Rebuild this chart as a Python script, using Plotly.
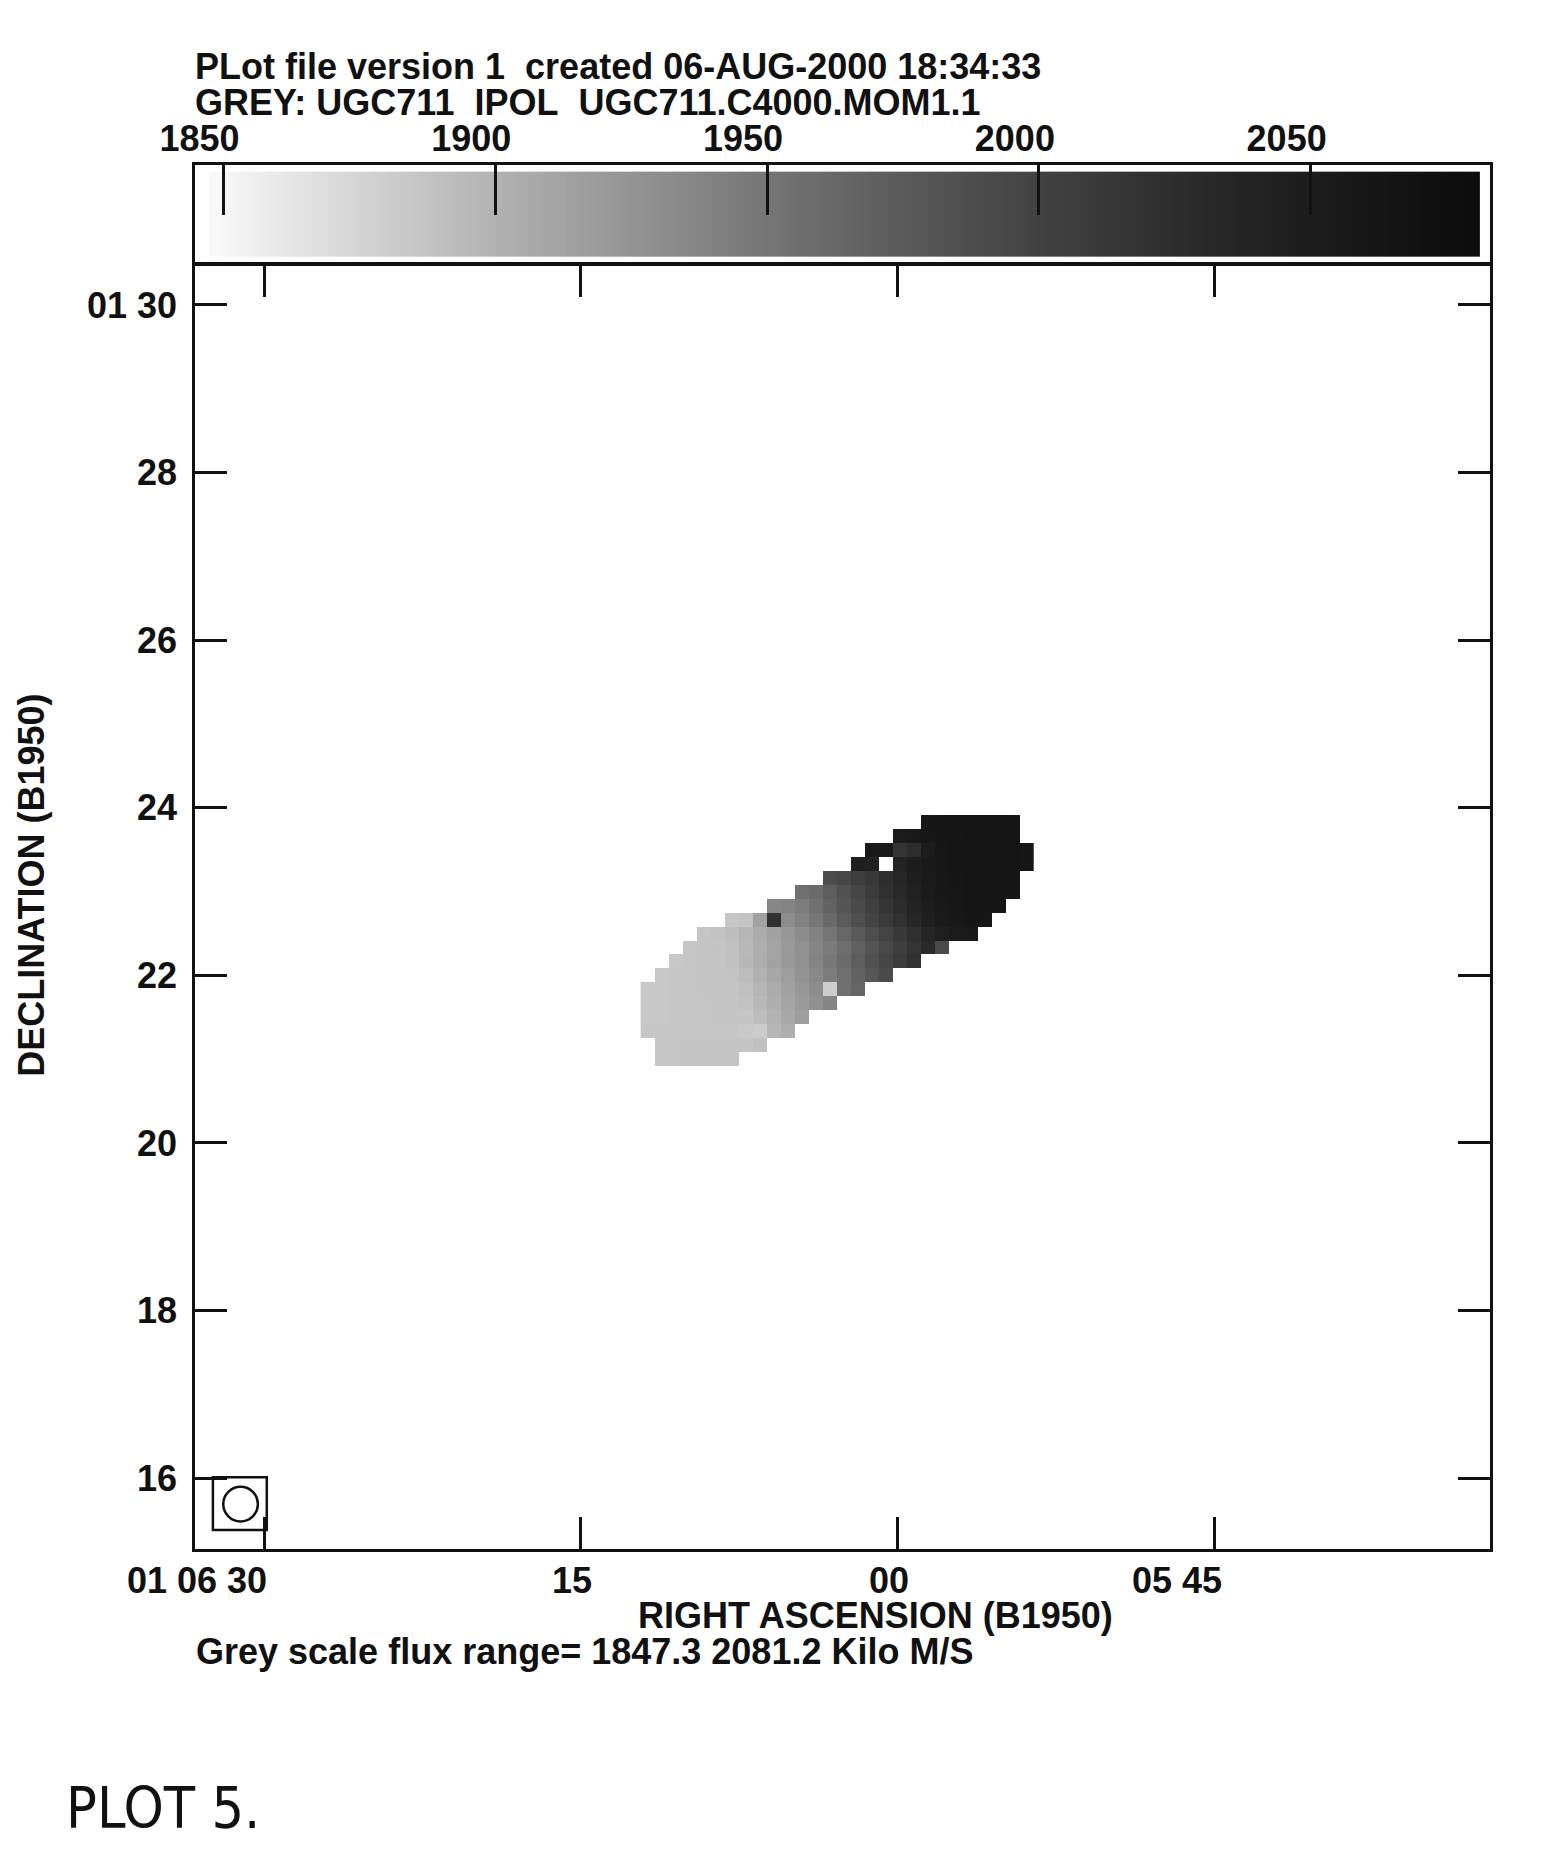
import numpy as np
import plotly.graph_objects as go

# ---------------- data ----------------
RA_TICKS = [30, 15, 0, -15]                      # seconds of RA relative to 01h06m00s
RA_TICK_TEXT = ["01 06 30", "15", "00", "05 45"]
RA_LABEL_SHIFT = [5, 13, 13, 9]
DEC_TICKS = [30, 28, 26, 24, 22, 20, 18, 16]     # arcmin relative to +01d00m
DEC_TICK_TEXT = ["01 30", "28", "26", "24", "22", "20", "18", "16"]
CBAR_TICKS = [1850, 1900, 1950, 2000, 2050]
FLUX_RANGE = [1847.3, 2081.2]                    # km/s

# grey ramp of the wedge (velocity -> grey level)
GREY_V = [1847.3, 1875, 1900, 1925, 1950, 1975, 2000, 2025, 2050, 2081.2]
GREY_L = [250, 212, 178, 147, 118, 90, 66, 45, 28, 12]

# velocity-field pixel grid (10" pixels)
GRID_X0, GRID_DX = 11.842, -0.665    # RA seconds of first column centre, step
GRID_Y0, GRID_DY = 23.830, -0.1667   # Dec arcmin of first (top) row centre, step
N_COLS = 28
ROW_START = [20, 18, 16, 15, 13, 11, 9, 6, 4, 3, 2, 1, 0, 0, 0, 0, 1, 1]
ROW_VALUES = [
    [2061, 2064, 2065, 2066, 2066, 2065, 2063],
    [2052, 2055, 2059, 2062, 2064, 2065, 2066, 2065, 2063],
    [2055, 2055, 2015, 2025, 2050, 2060, 2063, 2064, 2066, 2066, 2065, 2062],
    [2045, 2042, None, 2040, 2050, 2056, 2060, 2063, 2064, 2066, 2066, 2065, 2062],
    [1990, 1995, 2005, 2012, 2024, 2036, 2047, 2054, 2058, 2061, 2063, 2064, 2064, 2062],
    [1955, 1960, 1972, 1984, 1996, 2008, 2020, 2032, 2043, 2051, 2057, 2060, 2062, 2063, 2063, 2062],
    [1935, 1938, 1944, 1955, 1967, 1979, 1991, 2003, 2015, 2027, 2038, 2048, 2055, 2059, 2061, 2062, 2061],
    [1885, 1887, 1914, 2020, 1930, 1940, 1950, 1962, 1974, 1986, 1998, 2010, 2022, 2034, 2045, 2053, 2058, 2061, 2060],
    [1886, 1888, 1891, 1897, 1905, 1913, 1921, 1930, 1940, 1951, 1963, 1975, 1987, 1999, 2011, 2023, 2035, 2045, 2052, 2056],
    [1885, 1886, 1887, 1889, 1895, 1903, 1911, 1919, 1927, 1936, 1946, 1957, 1969, 1981, 1993, 2005, 2017, 2029, 1992],
    [1884, 1885, 1886, 1886, 1889, 1896, 1904, 1912, 1920, 1928, 1938, 1948, 1960, 1972, 1984, 1996, 2008, 2020],
    [1884, 1885, 1885, 1886, 1886, 1887, 1893, 1901, 1909, 1917, 1925, 1934, 1944, 1955, 1967, 1979, 1991],
    [1884, 1884, 1885, 1885, 1886, 1886, 1886, 1890, 1898, 1906, 1914, 1922, 1930, 1880, 1955, 1965],
    [1884, 1884, 1885, 1885, 1885, 1886, 1886, 1888, 1895, 1903, 1911, 1919, 1927, 1936],
    [1884, 1884, 1885, 1885, 1885, 1886, 1886, 1886, 1892, 1900, 1908, 1916],
    [1885, 1885, 1885, 1885, 1885, 1885, 1885, 1883, 1881, 1897, 1904],
    [1885, 1885, 1886, 1886, 1886, 1886, 1886, 1890],
    [1885, 1885, 1886, 1886, 1886, 1886],
]

# beam (box and circle) in RA seconds / Dec arcmin
BEAM_BOX_X = [32.42, 29.87]
BEAM_BOX_Y = [15.38, 16.01]
BEAM_CENTER = [31.11, 15.69]
BEAM_RADIUS = [0.82, 0.2065]

# ---------------- build ----------------
lo, hi = FLUX_RANGE
colorscale = [[(v - lo) / (hi - lo), f"rgb({g},{g},{g})"] for v, g in zip(GREY_V, GREY_L)]

z = []
for s, vals in zip(ROW_START, ROW_VALUES):
    row = [None] * N_COLS
    for i, v in enumerate(vals):
        row[s + i] = v
    z.append(row)

FONT = dict(family="Liberation Sans, Arial, Helvetica, sans-serif", size=36,
            color="#111111", weight="bold")
LINE = "#111111"

fig = go.Figure()
fig.add_trace(go.Heatmap(
    z=z, x0=GRID_X0, dx=GRID_DX, y0=GRID_Y0, dy=GRID_DY,
    colorscale=colorscale, zmin=lo, zmax=hi, showscale=False,
    xaxis="x", yaxis="y", hoverongaps=False))

edges = np.linspace(lo, hi, 236)
mids = (edges[:-1] + edges[1:]) / 2
fig.add_trace(go.Heatmap(
    z=[mids], x=edges, y=[0.064, 0.932],
    colorscale=colorscale, zmin=lo, zmax=hi, showscale=False,
    xaxis="x2", yaxis="y2"))

# the page body has an 8px margin, so the figure is drawn 8px in from the corner
fig.update_layout(
    width=1527, height=1843,
    margin=dict(l=187, r=45, t=157, b=302, pad=0),
    paper_bgcolor="white", plot_bgcolor="white",
    showlegend=False,
    xaxis=dict(domain=[0, 1], anchor="y", range=[33.267, -28.02],
               tickmode="array", tickvals=RA_TICKS, showticklabels=False,
               ticks="inside", ticklen=32, tickwidth=2.5, tickcolor=LINE,
               showline=True, linecolor=LINE, linewidth=2.5, mirror="ticks",
               showgrid=False, zeroline=False),
    yaxis=dict(domain=[0, 0.92775], anchor="x", range=[15.154, 30.477],
               tickmode="array", tickvals=DEC_TICKS, ticktext=DEC_TICK_TEXT,
               ticks="inside", ticklen=32, tickwidth=2.5, tickcolor=LINE,
               showline=True, linecolor=LINE, linewidth=2.5, mirror="ticks",
               showgrid=False, zeroline=False, tickfont=FONT, ticklabelstandoff=8),
    xaxis2=dict(domain=[0, 1], anchor="y2", range=[1844.75, 2083.0], side="top",
                tickmode="array", tickvals=CBAR_TICKS,
                ticks="inside", ticklen=50, tickwidth=2.5, tickcolor=LINE,
                showline=True, linecolor=LINE, linewidth=2.5, mirror=True,
                showgrid=False, zeroline=False, tickfont=FONT,
                ticklabelstandoff=-3, ticklabelshift=-24),
    yaxis2=dict(domain=[0.92919, 1], anchor="x2", range=[0, 1],
                showticklabels=False, ticks="",
                showline=True, linecolor=LINE, linewidth=2.5, mirror=True,
                showgrid=False, zeroline=False),
)

ann = []
for t, txt, sh in zip(RA_TICKS, RA_TICK_TEXT, RA_LABEL_SHIFT):
    ann.append(dict(x=t, xref="x", y=0, yref="paper", yshift=-31, xshift=sh,
                    xanchor="right", yanchor="middle", text=txt, showarrow=False, font=FONT))

NB = "\u00a0"
ann += [
    dict(x=-0.0015, xref="paper", y=1.0715, yref="paper", xanchor="left", yanchor="middle",
         text=f"PLot file version 1{NB}{NB}created 06-AUG-2000 18:34:33",
         showarrow=False, font=FONT),
    dict(x=-0.0015, xref="paper", y=1.0448, yref="paper", xanchor="left", yanchor="middle",
         text=f"GREY: UGC711{NB}{NB}IPOL{NB}{NB}UGC711.C4000.MOM1.1",
         showarrow=False, font=FONT),
    dict(x=0.5253, xref="paper", y=-0.0477, yref="paper", xanchor="center", yanchor="middle",
         text="RIGHT ASCENSION (B1950)", showarrow=False, font=FONT),
    dict(x=-0.001, xref="paper", y=-0.0737, yref="paper", xanchor="left", yanchor="middle",
         text="Grey scale flux range= 1847.3 2081.2 Kilo M/S", showarrow=False, font=FONT),
    dict(x=-0.126, xref="paper", y=0.4798, yref="paper", xanchor="center", yanchor="middle",
         textangle=-90, text="DECLINATION (B1950)", showarrow=False, font=FONT),
    dict(x=-0.1013, xref="paper", y=-0.1871, yref="paper", xanchor="left", yanchor="middle",
         text="PLOT 5.", showarrow=False,
         font=dict(family="DejaVu Sans Condensed, Liberation Sans Narrow, Open Sans, sans-serif",
                   size=57, color="#111111")),
]
fig.update_layout(annotations=ann)

fig.add_shape(type="rect", xref="x", yref="y",
              x0=BEAM_BOX_X[0], x1=BEAM_BOX_X[1], y0=BEAM_BOX_Y[0], y1=BEAM_BOX_Y[1],
              line=dict(color=LINE, width=2.5))
fig.add_shape(type="circle", xref="x", yref="y",
              x0=BEAM_CENTER[0] + BEAM_RADIUS[0], x1=BEAM_CENTER[0] - BEAM_RADIUS[0],
              y0=BEAM_CENTER[1] - BEAM_RADIUS[1], y1=BEAM_CENTER[1] + BEAM_RADIUS[1],
              line=dict(color=LINE, width=2.5))

fig.write_html("out.html")
